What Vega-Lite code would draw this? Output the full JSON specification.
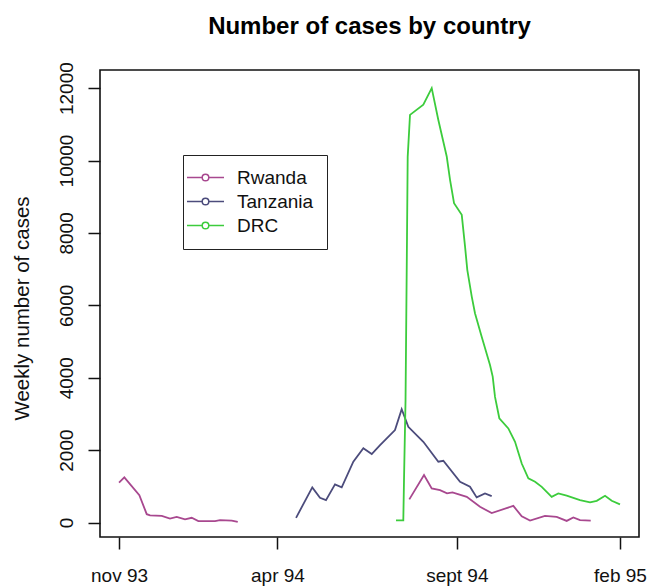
{
  "$schema": "https://vega.github.io/schema/vega-lite/v6.json",
  "autosize": {"type": "none"},
  "width": 539,
  "height": 467,
  "padding": {"left": 100, "top": 70, "right": 8, "bottom": 51},
  "background": "white",
  "title": {
    "text": "Number of cases by country",
    "font": "Liberation Sans",
    "fontSize": 24,
    "fontWeight": "bold",
    "color": "black",
    "anchor": "middle",
    "frame": "group",
    "baseline": "alphabetic",
    "offset": 4
  },
  "config": {
    "view": {"stroke": "#111", "strokeWidth": 1.6},
    "axis": {
      "domain": false,
      "grid": false,
      "tickColor": "#111",
      "tickWidth": 1.5,
      "tickSize": 12,
      "labelFont": "Liberation Sans",
      "labelFontSize": 19,
      "labelColor": "#111",
      "titleFont": "Liberation Sans",
      "titleFontSize": 20.5,
      "titleFontWeight": "normal",
      "titleColor": "#111"
    },
    "legend": {
      "labelFont": "Liberation Sans",
      "labelFontSize": 19,
      "labelColor": "#111"
    }
  },
  "data": {
    "values": [
      {"country": "Rwanda", "seg": "R1", "t": 0.0, "cases": 1100},
      {"country": "Rwanda", "seg": "R1", "t": 0.69, "cases": 1245},
      {"country": "Rwanda", "seg": "R1", "t": 2.64, "cases": 755},
      {"country": "Rwanda", "seg": "R1", "t": 3.6, "cases": 230},
      {"country": "Rwanda", "seg": "R1", "t": 4.03, "cases": 195},
      {"country": "Rwanda", "seg": "R1", "t": 5.55, "cases": 185},
      {"country": "Rwanda", "seg": "R1", "t": 6.62, "cases": 110},
      {"country": "Rwanda", "seg": "R1", "t": 7.49, "cases": 155},
      {"country": "Rwanda", "seg": "R1", "t": 8.57, "cases": 85},
      {"country": "Rwanda", "seg": "R1", "t": 9.44, "cases": 130},
      {"country": "Rwanda", "seg": "R1", "t": 10.3, "cases": 40},
      {"country": "Rwanda", "seg": "R1", "t": 12.47, "cases": 40},
      {"country": "Rwanda", "seg": "R1", "t": 13.12, "cases": 65},
      {"country": "Rwanda", "seg": "R1", "t": 14.64, "cases": 55},
      {"country": "Rwanda", "seg": "R1", "t": 15.42, "cases": 20},
      {"country": "Rwanda", "seg": "R2", "t": 37.7, "cases": 640},
      {"country": "Rwanda", "seg": "R2", "t": 39.61, "cases": 1310},
      {"country": "Rwanda", "seg": "R2", "t": 40.61, "cases": 940},
      {"country": "Rwanda", "seg": "R2", "t": 41.69, "cases": 895},
      {"country": "Rwanda", "seg": "R2", "t": 42.6, "cases": 805},
      {"country": "Rwanda", "seg": "R2", "t": 43.3, "cases": 830},
      {"country": "Rwanda", "seg": "R2", "t": 45.16, "cases": 710},
      {"country": "Rwanda", "seg": "R2", "t": 46.88, "cases": 435},
      {"country": "Rwanda", "seg": "R2", "t": 48.4, "cases": 260},
      {"country": "Rwanda", "seg": "R2", "t": 51.21, "cases": 460},
      {"country": "Rwanda", "seg": "R2", "t": 52.3, "cases": 170},
      {"country": "Rwanda", "seg": "R2", "t": 53.38, "cases": 55},
      {"country": "Rwanda", "seg": "R2", "t": 55.32, "cases": 185},
      {"country": "Rwanda", "seg": "R2", "t": 56.84, "cases": 155},
      {"country": "Rwanda", "seg": "R2", "t": 58.14, "cases": 45},
      {"country": "Rwanda", "seg": "R2", "t": 59.0, "cases": 140},
      {"country": "Rwanda", "seg": "R2", "t": 59.87, "cases": 65},
      {"country": "Rwanda", "seg": "R2", "t": 61.26, "cases": 55},
      {"country": "Tanzania", "seg": "T1", "t": 22.99, "cases": 130},
      {"country": "Tanzania", "seg": "T1", "t": 25.1, "cases": 970},
      {"country": "Tanzania", "seg": "T1", "t": 26.1, "cases": 685},
      {"country": "Tanzania", "seg": "T1", "t": 26.88, "cases": 620},
      {"country": "Tanzania", "seg": "T1", "t": 28.05, "cases": 1055},
      {"country": "Tanzania", "seg": "T1", "t": 28.92, "cases": 970},
      {"country": "Tanzania", "seg": "T1", "t": 30.43, "cases": 1680},
      {"country": "Tanzania", "seg": "T1", "t": 31.73, "cases": 2050},
      {"country": "Tanzania", "seg": "T1", "t": 32.82, "cases": 1890},
      {"country": "Tanzania", "seg": "T1", "t": 33.9, "cases": 2140},
      {"country": "Tanzania", "seg": "T1", "t": 35.84, "cases": 2555},
      {"country": "Tanzania", "seg": "T1", "t": 36.71, "cases": 3130},
      {"country": "Tanzania", "seg": "T1", "t": 37.57, "cases": 2645},
      {"country": "Tanzania", "seg": "T1", "t": 39.52, "cases": 2230},
      {"country": "Tanzania", "seg": "T1", "t": 41.47, "cases": 1680},
      {"country": "Tanzania", "seg": "T1", "t": 42.12, "cases": 1705},
      {"country": "Tanzania", "seg": "T1", "t": 44.29, "cases": 1125},
      {"country": "Tanzania", "seg": "T1", "t": 45.58, "cases": 990},
      {"country": "Tanzania", "seg": "T1", "t": 46.45, "cases": 695},
      {"country": "Tanzania", "seg": "T1", "t": 47.53, "cases": 805},
      {"country": "Tanzania", "seg": "T1", "t": 48.4, "cases": 730},
      {"country": "DRC", "seg": "D1", "t": 35.97, "cases": 60},
      {"country": "DRC", "seg": "D1", "t": 36.92, "cases": 60},
      {"country": "DRC", "seg": "D1", "t": 37.01, "cases": 1160},
      {"country": "DRC", "seg": "D1", "t": 37.21, "cases": 3380},
      {"country": "DRC", "seg": "D1", "t": 37.4, "cases": 7860},
      {"country": "DRC", "seg": "D1", "t": 37.49, "cases": 10100},
      {"country": "DRC", "seg": "D1", "t": 37.79, "cases": 11260},
      {"country": "DRC", "seg": "D1", "t": 39.52, "cases": 11540},
      {"country": "DRC", "seg": "D1", "t": 40.61, "cases": 12000},
      {"country": "DRC", "seg": "D1", "t": 41.47, "cases": 11120},
      {"country": "DRC", "seg": "D1", "t": 42.56, "cases": 10110},
      {"country": "DRC", "seg": "D1", "t": 42.99, "cases": 9465},
      {"country": "DRC", "seg": "D1", "t": 43.51, "cases": 8820},
      {"country": "DRC", "seg": "D1", "t": 44.51, "cases": 8500},
      {"country": "DRC", "seg": "D1", "t": 44.94, "cases": 7620},
      {"country": "DRC", "seg": "D1", "t": 45.23, "cases": 6980},
      {"country": "DRC", "seg": "D1", "t": 45.81, "cases": 6240},
      {"country": "DRC", "seg": "D1", "t": 46.23, "cases": 5780},
      {"country": "DRC", "seg": "D1", "t": 47.1, "cases": 5130},
      {"country": "DRC", "seg": "D1", "t": 48.18, "cases": 4350},
      {"country": "DRC", "seg": "D1", "t": 48.53, "cases": 4030},
      {"country": "DRC", "seg": "D1", "t": 48.83, "cases": 3470},
      {"country": "DRC", "seg": "D1", "t": 49.39, "cases": 2880},
      {"country": "DRC", "seg": "D1", "t": 50.56, "cases": 2600},
      {"country": "DRC", "seg": "D1", "t": 51.43, "cases": 2230},
      {"country": "DRC", "seg": "D1", "t": 52.3, "cases": 1630},
      {"country": "DRC", "seg": "D1", "t": 53.16, "cases": 1220},
      {"country": "DRC", "seg": "D1", "t": 54.03, "cases": 1125},
      {"country": "DRC", "seg": "D1", "t": 54.9, "cases": 985},
      {"country": "DRC", "seg": "D1", "t": 56.19, "cases": 710},
      {"country": "DRC", "seg": "D1", "t": 57.05, "cases": 805},
      {"country": "DRC", "seg": "D1", "t": 58.14, "cases": 740},
      {"country": "DRC", "seg": "D1", "t": 59.87, "cases": 620},
      {"country": "DRC", "seg": "D1", "t": 61.17, "cases": 555},
      {"country": "DRC", "seg": "D1", "t": 62.04, "cases": 600},
      {"country": "DRC", "seg": "D1", "t": 63.12, "cases": 740},
      {"country": "DRC", "seg": "D1", "t": 63.99, "cases": 600},
      {"country": "DRC", "seg": "D1", "t": 65.06, "cases": 500}
    ]
  },
  "mark": {"type": "line", "strokeWidth": 1.8, "clip": true},
  "encoding": {
    "x": {
      "field": "t",
      "type": "quantitative",
      "scale": {"domain": [-2.47, 67.53], "nice": false, "zero": false},
      "axis": {
        "title": null,
        "values": [0, 20.58, 43.87, 65.06],
        "labelExpr": "datum.value < 10 ? 'nov 93' : datum.value < 30 ? 'apr 94' : datum.value < 55 ? 'sept 94' : 'feb 95'",
        "labelPadding": 17,
        "labelFlush": false,
        "labelOverlap": false
      }
    },
    "y": {
      "field": "cases",
      "type": "quantitative",
      "scale": {"domain": [-400, 12500], "nice": false, "zero": false},
      "axis": {
        "title": "Weekly number of cases",
        "values": [0, 2000, 4000, 6000, 8000, 10000, 12000],
        "format": "d",
        "labelAngle": 270,
        "labelAlign": "center",
        "labelBaseline": "bottom",
        "labelPadding": 12,
        "labelOverlap": false,
        "labelFlush": false,
        "titleAngle": 270,
        "titleAlign": "center",
        "titleBaseline": "middle",
        "titleX": -78,
        "titleY": 238
      }
    },
    "color": {
      "field": "country",
      "type": "nominal",
      "scale": {"domain": ["Rwanda", "Tanzania", "DRC"], "range": ["#A8488F", "#4C4C7C", "#3CCC3C"]},
      "legend": {
        "title": null,
        "orient": "none",
        "legendX": 83,
        "legendY": 85,
        "strokeColor": "#222",
        "padding": 13,
        "rowPadding": 4,
        "symbolType": "M-3.7,0L-0.66,0M0.66,0L3.7,0M0.66,0A0.66,0.66,0,1,1,-0.66,0A0.66,0.66,0,1,1,0.66,0",
        "symbolSize": 100,
        "symbolOffset": 0,
        "symbolStrokeWidth": 1.5,
        "symbolFillColor": "white",
        "labelOffset": 22
      }
    },
    "detail": {"field": "seg", "type": "nominal"}
  }
}
